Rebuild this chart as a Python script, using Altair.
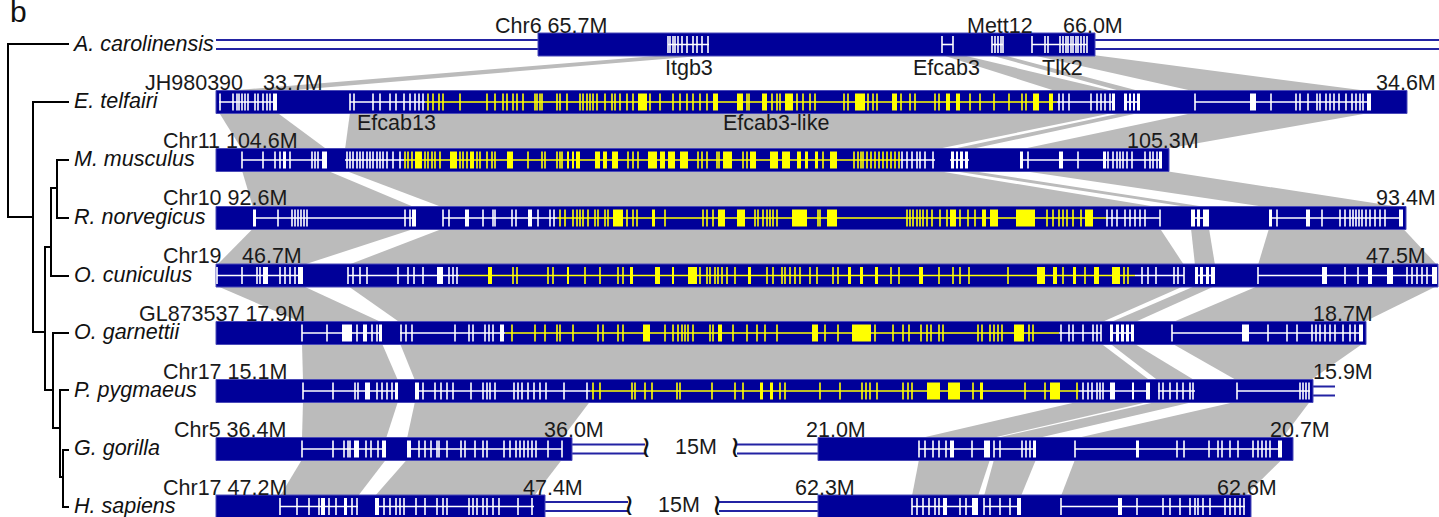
import altair as alt
import pandas as pd

W, H = 1439, 517

# ---------------- data (alignment coordinate units) ----------------
SPECIES = ["A. carolinensis", "E. telfairi", "M. musculus", "R. norvegicus",
           "O. cuniculus", "O. garnettii", "P. pygmaeus", "G. gorilla", "H. sapiens"]
KEYS = ["A", "E", "M", "R", "OC", "OG", "PP", "GG", "HS"]
TRACK_Y = [44.5, 102, 160, 218, 275.5, 333, 391, 449, 506.5]

BARS = {
    "A": [(538, 1095)], "E": [(216, 1407)], "M": [(216, 1169)], "R": [(216, 1406)],
    "OC": [(216, 1438)], "OG": [(216, 1366)], "PP": [(216, 1313)],
    "GG": [(216, 572), (818, 1293)], "HS": [(216, 545), (818, 1251)],
}
GAPS = {
    "A": [(216, 538), (1095, 1439)], "PP": [(1313, 1335)],
    "GG": [(572, 645), (737, 818)], "HS": [(545, 628), (719, 818)],
}
BREAKS = {"GG": [646, 735], "HS": [629, 717]}

GENE_LINES = {
    "A": [(668, 709, "w"), (942, 953, "w"), (992, 1003, "w"), (1032, 1087, "w")],
    "E": [(219, 276, "w"), (350, 425, "w"), (425, 1057, "y"), (1057, 1114, "w"),
          (1124, 1140, "w"), (1195, 1371, "w")],
    "M": [(242, 327, "w"), (345, 404, "w"), (404, 901, "y"), (901, 935, "w"),
          (950, 969, "w"), (1020, 1162, "w")],
    "R": [(253, 415, "w"), (443, 557, "w"), (557, 1107, "y"), (1107, 1160, "w"),
          (1191, 1209, "w"), (1269, 1403, "w")],
    "OC": [(217, 303, "w"), (348, 459, "w"), (459, 1135, "y"), (1135, 1184, "w"),
           (1195, 1215, "w"), (1258, 1437, "w")],
    "OG": [(302, 382, "w"), (400, 505, "w"), (505, 1059, "y"), (1059, 1101, "w"),
           (1110, 1134, "w"), (1172, 1363, "w")],
    "PP": [(303, 398, "w"), (415, 590, "w"), (590, 1079, "y"), (1079, 1150, "w"),
           (1158, 1195, "w"), (1237, 1310, "w")],
    "GG": [(302, 386, "w"), (407, 562, "w"), (919, 990, "w"), (994, 1036, "w"), (1075, 1282, "w")],
    "HS": [(280, 358, "w"), (375, 534, "w"), (912, 978, "w"), (984, 1021, "w"), (1061, 1245, "w")],
}

# exons: single number = thin exon, [a, b] = wide exon
A_WHITE = [668, 670, 673, 675, 678, 682, 687, 693, 697, 702, 708, 942, 953,
           992, 995, 998, 1001, 1003, 1032, 1045, 1048, 1060, 1063, 1066, 1068, 1071,
           1073, 1076, 1078, 1081, 1084, 1087]
E_WHITE = [220, 233, 237, 239, 242, 245, 248, 255, 258, 263, 267, 270, [273, 277],
           350, 354, 373, 380, 390, 396, 404, 410, 415, 419, 423,
           1059, 1063, 1069, 1091, 1097, 1101, 1105, 1110, [1112, 1115],
           [1124, 1127], [1129, 1131], [1133, 1135], [1137, 1140],
           1195, [1250, 1256], 1271, 1296, 1300, 1308, 1317, 1320, 1326, 1330, 1334,
           1339, 1346, 1352, 1356, 1360, 1363, [1367, 1371]]
E_YELLOW = [428, 433, 439, 443, 460, 487, 495, 503, 507, 513, 517, 523, 535, 537, 540, 542,
            557, 560, 567, 580, 583, 587, 590, 593, 597, 605, 612, 615, 620, 627, 633,
            [638, 647], 650, 660, 673, 680, 687, 693, 700, 707, [713, 718], [737, 743], 747,
            749, [762, 767], 772, 777, 780, [785, 793], 797, 803, 810, 815, 844, 848,
            [855, 865], 868, 873, 877, [892, 897], 901, 910, 915, 935, 939, [946, 950],
            [956, 960], 970, 980, 994, 1009, 1022, 1026, [1033, 1039], [1049, 1053]]
M_WHITE = [242, 263, 275, 280, [283, 286], 290, 312, 315, 318, [322, 327],
           347, 350, 353, 357, 360, 363, 367, 370, 373, 377, 380, 383, 387, 393, 400,
           902, 907, 912, 917, 920, 925, 933,
           [951, 954], [956, 958], [960, 963], [965, 968],
           [1020, 1023], 1028, [1059, 1063], 1078, [1103, 1106], 1108, 1113, 1117, 1120,
           1123, 1127, 1132, 1145, 1150, 1153, 1157, [1159, 1162]]
M_YELLOW = [405, 408, 412, [415, 422], 425, 428, 432, 435, 440, [450, 457], 460, 463, 467,
            [470, 474], 477, 480, 487, 492, 495, [507, 513], 528, 542, 545, 557, 560, 562,
            [567, 569], [572, 574], [576, 580], [595, 600], [603, 607], [612, 618], 628,
            633, 638, [648, 657], [660, 665], [668, 675], [680, 688], 698, 702, 707, 717,
            719, [723, 732], 743, 747, [750, 756], [770, 778], [782, 790], [797, 801],
            [805, 808], [815, 818], 823, [830, 837], 854, 858, 861, 863, 867, 871, 875,
            879, 883, 887, 891, 895, 899]
R_WHITE = [[253, 256], 278, 292, 295, 298, 301, 304, 307, 405, 410, [412, 416],
           443, 449, [465, 469], 483, 493, 495, 512, 516, [528, 532], 538, 550, 554,
           1107, 1112, 1117, 1125, 1130, 1135, 1140, 1145, 1160,
           [1191, 1195], [1197, 1200], [1203, 1209],
           [1269, 1272], 1277, [1306, 1310], 1322, 1340, 1345, 1350, 1353, 1356, 1359,
           1362, 1366, 1370, 1375, 1380, 1385, [1399, 1403]]
R_YELLOW = [560, 565, 573, 577, 580, 583, 588, 595, 598, 605, 608, [613, 623], 627, 633, 637,
            [652, 655], 665, 703, 707, 713, [718, 725], [737, 745], 755, 758, 763, 767, 770,
            773, 777, [792, 807], 818, 820, [827, 837], 907, 910, 913, 917, 920, 923, 927,
            932, 940, 947, [950, 956], 960, 968, 975, [982, 986], [990, 998], [1016, 1035],
            1047, 1053, 1059, 1063, 1067, 1073, 1081, [1085, 1093]]
OC_WHITE = [217, 242, 257, 260, [263, 268], 280, 285, 290, 295, [298, 303],
            348, 353, 360, 367, 398, 408, 414, 423, [437, 443], 449, 453, 457,
            1142, 1148, 1156, 1174, 1178, 1184,
            [1195, 1198], [1200, 1203], [1206, 1209], [1211, 1215],
            1258, [1322, 1327], 1345, 1358, [1368, 1372], [1387, 1393], 1407, 1412, 1417,
            1422, 1427, [1432, 1437]]
OC_YELLOW = [[488, 492], 513, 517, 548, 553, [567, 569], 585, 600, 618, 623, [630, 633],
             [655, 660], [672, 674], [688, 697], 700, 707, 710, 715, 718, 722, 727, 735,
             [748, 751], 767, 773, 782, 785, 790, 795, 800, 810, 817, 833, 838, [848, 851],
             [860, 863], [875, 878], 891, 899, [919, 923], 939, 953, 960, 969, 1008,
             [1037, 1045], [1053, 1057], 1063, [1073, 1076], 1085, [1094, 1099],
             [1112, 1120], 1124, 1128]
OG_WHITE = [302, 327, [342, 352], 357, [363, 367], 372, 377, [379, 382],
            401, 406, 412, 455, 469, 473, 485, 489, 493, [500, 504],
            1061, 1069, 1073, 1083, 1093, 1097, 1101,
            [1110, 1113], [1116, 1119], [1121, 1124], [1126, 1129], [1131, 1134],
            1172, [1242, 1249], 1268, 1287, 1297, 1312, 1316, 1320, 1325, 1330, 1335, 1343,
            1350, 1355, [1359, 1363]]
OG_YELLOW = [512, 535, 545, 557, 560, 573, 598, 603, 618, 623, [643, 650], 665, 673, 678, 682,
             685, 688, 693, 710, 713, [718, 722], 733, 747, 757, 765, 777, [812, 818], 825,
             838, [852, 871], 875, 893, 903, 909, 921, 927, 931, 939, 943, 978, 982, 990,
             994, 998, 1002, [1014, 1024], 1029, 1033]
PP_WHITE = [303, 333, 355, 358, [365, 370], 377, 382, 387, 392, [395, 398],
            [415, 419], 423, 435, 441, 447, 453, 471, 483, 487, 490, 495, 514, 518, 522, 528,
            534, 540, 546, 564, 587,
            1083, 1088, 1092, 1097, 1100, 1103, [1110, 1115], [1132, 1134], [1146, 1150],
            1159, 1163, 1170, 1177, 1183, 1190, 1193,
            1237, 1300, 1303, 1306, 1309]
PP_YELLOW = [593, 600, 632, 635, 645, 652, 677, 680, 712, 735, 743, [760, 763], [770, 773],
             780, 785, 820, 840, 862, 866, 870, 877, 903, 908, 912, [927, 940], [948, 960],
             973, [980, 983], 1025, 1045, [1050, 1060], 1077]
GG_WHITE = [302, 333, 344, 348, 350, [354, 359], 366, 371, 378, [382, 386],
            [407, 411], 419, 425, 431, 437, 439, 447, 461, 465, 475, 483, 487, 504, 510, 516,
            520, 524, 528, 532, 536, 548, 562,
            919, 925, 933, 939, 946, [950, 954], 972, [984, 990],
            994, 1000, 1022, 1026, 1030, [1033, 1036],
            1075, [1136, 1139], 1177, 1184, 1209, 1218, 1222, 1230, 1238, 1253, 1258, 1262,
            1266, 1270, [1278, 1282]]
HS_WHITE = [280, 297, 309, 319, [321, 325], 329, 336, [344, 347], 352, 357,
            [375, 379], 384, 390, 396, 400, 404, 416, 425, 437, 443, 447, 469, 473, 477, 483,
            487, 493, 499, 518, 532,
            912, 917, 923, 929, 935, 939, [943, 947], 960, 966, [972, 978],
            984, 990, 1000, 1010, [1017, 1021],
            1061, [1118, 1122], 1137, 1163, 1170, 1180, 1190, 1195, 1198, 1203, 1210, 1225,
            1230, 1235, 1240, 1244]

EXONS = {
    "A": {"w": A_WHITE, "y": []}, "E": {"w": E_WHITE, "y": E_YELLOW},
    "M": {"w": M_WHITE, "y": M_YELLOW}, "R": {"w": R_WHITE, "y": R_YELLOW},
    "OC": {"w": OC_WHITE, "y": OC_YELLOW}, "OG": {"w": OG_WHITE, "y": OG_YELLOW},
    "PP": {"w": PP_WHITE, "y": PP_YELLOW}, "GG": {"w": GG_WHITE, "y": []},
    "HS": {"w": HS_WHITE, "y": []},
}

# synteny ribbons between consecutive tracks: (upper track index, top-left, top-right, bottom-left, bottom-right)
SYNTENY = [
    (0, 668, 712, 219, 277), (0, 942, 962, 1057, 1115), (0, 990, 1003, 1122, 1141), (0, 1032, 1093, 1195, 1372),
    (1, 219, 277, 242, 327), (1, 350, 1115, 345, 935), (1, 1124, 1141, 950, 969), (1, 1195, 1372, 1020, 1162),
    (2, 242, 327, 253, 415), (2, 345, 935, 443, 1160), (2, 950, 969, 1191, 1209), (2, 1020, 1162, 1269, 1403),
    (3, 253, 415, 217, 303), (3, 443, 1160, 348, 1184), (3, 1191, 1209, 1195, 1215), (3, 1269, 1403, 1258, 1437),
    (4, 217, 303, 302, 382), (4, 348, 1184, 400, 1101), (4, 1195, 1215, 1110, 1134), (4, 1258, 1437, 1172, 1363),
    (5, 302, 382, 303, 398), (5, 400, 1101, 415, 1150), (5, 1110, 1134, 1158, 1195), (5, 1172, 1363, 1237, 1310),
    (6, 303, 398, 302, 386), (6, 415, 590, 407, 562), (6, 1079, 1150, 919, 990), (6, 1158, 1195, 994, 1036),
    (6, 1237, 1310, 1075, 1282),
    (7, 302, 386, 280, 358), (7, 407, 562, 375, 534), (7, 919, 990, 912, 978), (7, 994, 1036, 984, 1021),
    (7, 1075, 1282, 1061, 1245),
]

TREE = [
    (8, 44, 8, 217), (8, 44, 68, 44), (8, 217, 33, 217),
    (33, 102, 33, 332), (33, 102, 68, 102), (33, 332, 45, 332),
    (45, 247, 45, 390), (45, 247, 51, 247), (45, 390, 53, 390),
    (51, 188, 51, 276), (51, 276, 68, 276), (51, 188, 57, 188),
    (57, 160, 57, 218), (57, 160, 68, 160), (57, 218, 68, 218),
    (53, 333, 53, 428), (53, 333, 68, 333), (53, 428, 60, 428),
    (60, 390, 60, 477), (60, 390, 68, 390), (60, 477, 63, 477),
    (63, 450, 63, 507), (63, 450, 68, 450), (63, 507, 68, 507),
]

LABELS = [
    ("Chr6 65.7M", 495, 33), ("Mett12", 967, 33), ("66.0M", 1063, 33),
    ("Itgb3", 665, 75), ("Efcab3", 913, 75), ("Tlk2", 1042, 75),
    ("JH980390", 145, 90), ("33.7M", 263, 90), ("34.6M", 1376, 90),
    ("Efcab13", 357, 130), ("Efcab3-like", 723, 130),
    ("Chr11 104.6M", 163, 148), ("105.3M", 1127, 148),
    ("Chr10 92.6M", 163, 205), ("93.4M", 1376, 205),
    ("Chr19", 163, 263), ("46.7M", 242, 263), ("47.5M", 1366, 263),
    ("GL873537 17.9M", 139, 321), ("18.7M", 1313, 321),
    ("Chr17 15.1M", 163, 379), ("15.9M", 1313, 379),
    ("Chr5 36.4M", 174, 437), ("36.0M", 544, 437), ("15M", 675, 454),
    ("21.0M", 806, 437), ("20.7M", 1270, 437),
    ("Chr17 47.2M", 163, 495), ("47.4M", 523, 495), ("15M", 658, 512),
    ("62.3M", 795, 495), ("62.6M", 1217, 495),
]

# ---------------- tables ----------------
HALF_BAR = 11.5
HALF_EXON = 8.5
THIN = 0.8

bar_rows, gap_rows, gene_rows, exon_rows, rib_rows, brk_rows = [], [], [], [], [], []
for k, yc in zip(KEYS, TRACK_Y):
    for a, b in BARS[k]:
        bar_rows.append({"x": a, "x2": b, "y": yc - HALF_BAR, "y2": yc + HALF_BAR})
    for a, b in GAPS.get(k, []):
        gap_rows.append({"x": a, "x2": b, "y": yc - 4.5})
        gap_rows.append({"x": a, "x2": b, "y": yc + 4.5})
    for xb in BREAKS.get(k, []):
        brk_rows.append({"x": xb, "y": yc - 1})
    for a, b, c in GENE_LINES[k]:
        gene_rows.append({"x": a, "x2": b, "y": yc, "c": c})
    for c, lst in EXONS[k].items():
        for e in lst:
            if isinstance(e, list):
                a, b = e
            else:
                a, b = e - THIN, e + THIN
            exon_rows.append({"x": a, "x2": b, "y": yc - HALF_EXON, "y2": yc + HALF_EXON, "c": c})

for i, (u, tl, tr, bl, br) in enumerate(SYNTENY):
    rib_rows.append({"rid": i, "y": TRACK_Y[u] + HALF_BAR - 1, "x": tl, "x2": tr})
    rib_rows.append({"rid": i, "y": TRACK_Y[u + 1] - HALF_BAR + 1, "x": bl, "x2": br})

tree_rows = [{"x": a, "y": b, "x2": c, "y2": d} for a, b, c, d in TREE]
sp_rows = [{"t": s, "x": 74, "y": y} for s, y in zip(SPECIES, TRACK_Y)]
lab_rows = [{"t": t, "x": x, "y": y} for t, x, y in LABELS]

xs = alt.Scale(domain=[0, W], nice=False, zero=False)
ys = alt.Scale(domain=[H, 0], nice=False, zero=False)
X = lambda f="x": alt.X(f"{f}:Q", scale=xs, axis=None)
Y = lambda f="y": alt.Y(f"{f}:Q", scale=ys, axis=None)
COL = alt.Color("c:N", scale=alt.Scale(domain=["w", "y"], range=["#ffffff", "#ffff00"]), legend=None)

ribbons = alt.Chart(pd.DataFrame(rib_rows)).mark_area(
    orient="horizontal", color="#bbbbbb", interpolate="linear"
).encode(y=Y(), x=alt.X("x:Q", scale=xs, axis=None, stack=None), x2="x2:Q", detail="rid:N")

gaps = alt.Chart(pd.DataFrame(gap_rows)).mark_rule(color="#2323a3", strokeWidth=2).encode(
    x=X(), x2="x2:Q", y=Y())

bars = alt.Chart(pd.DataFrame(bar_rows)).mark_rect(
    color="#000099", stroke="#4a4ab8", strokeWidth=1).encode(x=X(), x2="x2:Q", y=Y(), y2="y2:Q")

genes = alt.Chart(pd.DataFrame(gene_rows)).mark_rule(strokeWidth=1.6).encode(
    x=X(), x2="x2:Q", y=Y(), color=COL)

exons = alt.Chart(pd.DataFrame(exon_rows)).mark_rect().encode(
    x=X(), x2="x2:Q", y=Y(), y2="y2:Q", color=COL)

tree = alt.Chart(pd.DataFrame(tree_rows)).mark_rule(
    color="#000000", strokeWidth=2, strokeCap="square").encode(x=X(), x2="x2:Q", y=Y(), y2="y2:Q")

species = alt.Chart(pd.DataFrame(sp_rows)).mark_text(
    align="left", baseline="middle", fontSize=21.5, fontStyle="italic",
    font="Liberation Sans", color="#111111").encode(x=X(), y=Y(), text="t:N")

labels = alt.Chart(pd.DataFrame(lab_rows)).mark_text(
    align="left", baseline="alphabetic", fontSize=21.5, font="Liberation Sans",
    color="#1a1a1a").encode(x=X(), y=Y(), text="t:N")

breaks = alt.Chart(pd.DataFrame(brk_rows)).mark_text(
    align="center", baseline="middle", fontSize=30, font="DejaVu Sans", color="#111111",
    text="\u2240").encode(x=X(), y=Y())

panel = alt.Chart(pd.DataFrame([{"t": "b", "x": 10, "y": 22}])).mark_text(
    align="left", baseline="alphabetic", fontSize=30, font="Liberation Sans",
    color="#111111").encode(x=X(), y=Y(), text="t:N")

chart = alt.layer(ribbons, gaps, bars, genes, exons, tree, species, labels, breaks, panel).properties(
    width=W, height=H, padding=0, autosize=alt.AutoSizeParams(type="none"),
    background="#ffffff"
).configure_view(stroke=None)

chart.save("out.html", embed_options={"renderer": "svg", "actions": False})
